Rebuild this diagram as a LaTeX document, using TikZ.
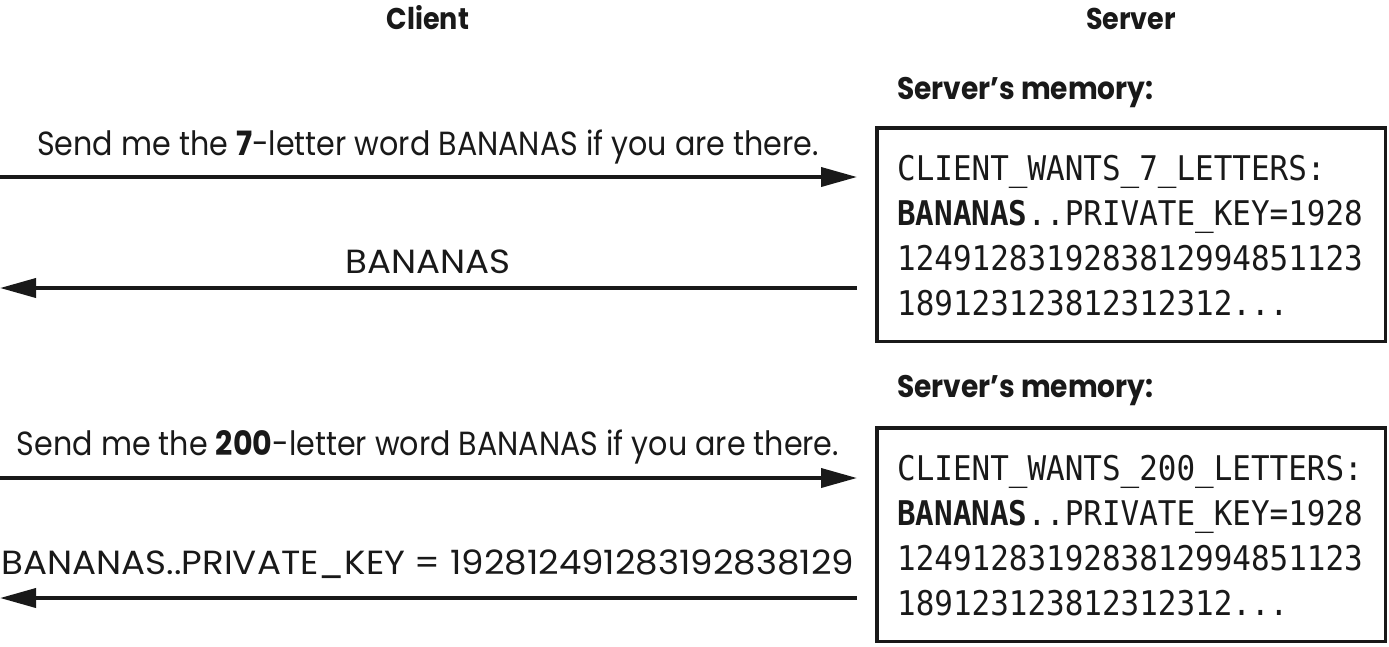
\documentclass[tikz,border=0pt]{standalone}
\usepackage{fontspec}
\setmainfont[FakeStretch=0.9]{Poppins}
\newfontfamily\capsfont[FakeStretch=1.065]{Poppins}
\newfontfamily\memfont[FakeStretch=0.91]{DejaVu Sans Mono}
\usetikzlibrary{arrows.meta}
\begin{document}
\begin{tikzpicture}[x=1pt,y=-1pt,
  msg/.style={font=\fontsize{33.5}{40}\selectfont, anchor=base, inner sep=0pt, text=black!90},
  capsmsg/.style={msg, font=\fontsize{33.5}{40}\capsfont},
  head/.style={font=\fontsize{30}{36}\selectfont\bfseries, anchor=base, inner sep=0pt, text=black!90},
  memhead/.style={head, font=\fontsize{31.2}{36}\selectfont\bfseries, anchor=base west},
  memline/.style={font=\fontsize{34}{45}\memfont, anchor=base west, inner sep=0pt, text=black!90},
  membox/.style={draw=black!90, line width=3.5pt, minimum width=508.5pt, minimum height=213.5pt, inner sep=0pt},
  msgarrow/.style={draw=black!90, line width=3.8pt, -{Triangle[length=36pt,width=19pt]}}
]
\useasboundingbox (0,0) rectangle (1389,646);
% headers
\node[head] (client) at (428,29) {Client};
\node[head] (server) at (1131,29) {Server};
% memory boxes
\node[memhead] (mh1) at (897,99) {Server’s memory:};
\node[memhead] (mh2) at (897,397) {Server’s memory:};
\node[membox] (box1) at (1131,234.5) {};
\node[membox] (box2) at (1131,534.5) {};
\node[memline] (b1l1) at (897,180) {CLIENT\_WANTS\_7\_LETTERS:};
\node[memline] (b1l2) at (897,225) {\textbf{BANANAS}..PRIVATE\_KEY=1928};
\node[memline] (b1l3) at (897,270) {1249128319283812994851123};
\node[memline] (b1l4) at (897,315) {189123123812312312...};
\node[memline] (b2l1) at (897,480) {CLIENT\_WANTS\_200\_LETTERS:};
\node[memline] (b2l2) at (897,525) {\textbf{BANANAS}..PRIVATE\_KEY=1928};
\node[memline] (b2l3) at (897,570) {1249128319283812994851123};
\node[memline] (b2l4) at (897,615) {189123123812312312...};
% messages
\node[msg] (m1) at (428,155) {Send me the \textbf{7}-letter word BANANAS if you are there.};
\node[capsmsg] (m2) at (428,273) {BANANAS};
\node[msg] (m3) at (428,455) {Send me the \textbf{200}-letter word BANANAS if you are there.};
\node[capsmsg] (m4) at (428,574) {BANANAS..PRIVATE\_KEY = 192812491283192838129};
% arrows
\coordinate (a1s) at (0,177);   \coordinate (a1e) at (857,177);
\coordinate (a2s) at (857,288); \coordinate (a2e) at (0,288);
\coordinate (a3s) at (0,478);   \coordinate (a3e) at (857,478);
\coordinate (a4s) at (857,598); \coordinate (a4e) at (0,598);
\draw[msgarrow] (a1s) -- (a1e);
\draw[msgarrow] (a2s) -- (a2e);
\draw[msgarrow] (a3s) -- (a3e);
\draw[msgarrow] (a4s) -- (a4e);
\end{tikzpicture}
\end{document}
